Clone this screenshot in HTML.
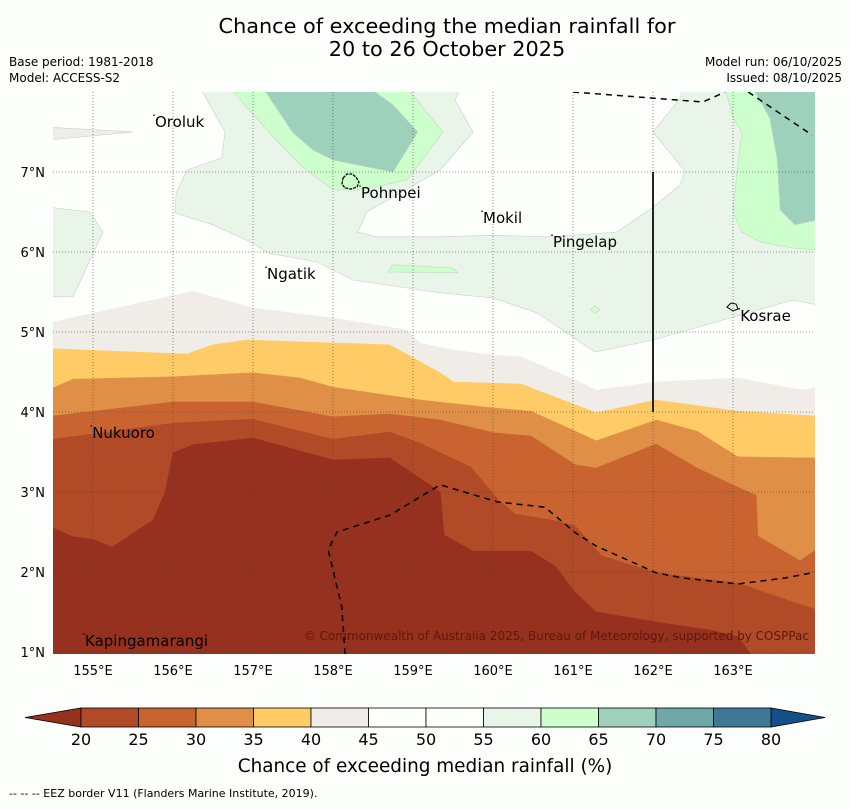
<!DOCTYPE html>
<html><head><meta charset="utf-8">
<style>
html,body{margin:0;padding:0;background:#fcfefc;}
body{width:850px;height:804px;overflow:hidden;font-family:"Liberation Sans","DejaVu Sans",sans-serif;}
svg text{font-family:"DejaVu Sans","Liberation Sans",sans-serif;}
</style></head>
<body>
<svg id="chart" width="850" height="804" viewBox="0 0 850 804" xmlns="http://www.w3.org/2000/svg">
<rect x="0" y="0" width="850" height="804" fill="#fcfefc"/>
<text x="447" y="33" font-size="20.8" text-anchor="middle" fill="#000">Chance of exceeding the median rainfall for</text>
<text x="447" y="56" font-size="20.8" text-anchor="middle" fill="#000">20 to 26 October 2025</text>
<text x="9" y="66" font-size="12">Base period: 1981-2018</text>
<text x="9" y="82" font-size="12">Model: ACCESS-S2</text>
<text x="842" y="66" font-size="12" text-anchor="end">Model run: 06/10/2025</text>
<text x="842" y="82" font-size="12" text-anchor="end">Issued: 08/10/2025</text>
<defs><clipPath id="mapclip"><rect x="53" y="92" width="762" height="562"/></clipPath></defs>
<g id="map" clip-path="url(#mapclip)">
<rect x="53" y="92" width="762" height="562" fill="#fdfffd"/>
</g>
<g id="axes"></g>
<g id="cbar"></g>
<text x="425" y="772" font-size="18.4" text-anchor="middle">Chance of exceeding median rainfall (%)</text>
<text x="9" y="797" font-size="11">--  --  -- EEZ border V11 (Flanders Marine Institute, 2019).</text>
</svg>
<script>
// ---- data (lon/lat) ----
const lonTicks = [155,156,157,158,159,160,161,162,163];
const latTicks = [1,2,3,4,5,6,7];
const cbLevels = [20,25,30,35,40,45,50,55,60,65,70,75,80];
const cbColors = ["#b04a27","#c96330","#e09046","#ffcb66","#f0ede8","#fdfffd","#fdfffd","#eaf5ea","#ccffcc","#9ed1bb","#6fa6a8","#3f7797"];
const cbLow = "#96301f", cbHigh = "#154f87";

const band40Lon = [154.5,156.25,157.0,158.0,158.925,159.09,159.51,160.01,160.35,161.03,161.29,162.04,163.06,163.86,164.05];
const band40Lat = [5.125,5.51,5.3,5.175,5.025,4.86,4.775,4.71,4.69,4.4,4.275,4.375,4.425,4.275,4.31];
const band35Lon = [154.5,156.175,156.5,156.925,158.71,159.05,159.34,159.51,160.35,161.29,162.04,163.06,164.05];
const band35Lat = [4.79,4.725,4.84,4.9,4.84,4.65,4.49,4.375,4.35,3.99,4.15,4.01,3.95];
const band30Lon = [154.5,154.75,156.0,157.0,157.59,158.0,159.09,160.01,160.475,161.03,161.29,162.04,162.55,163.06,164.05];
const band30Lat = [4.3,4.41,4.44,4.49,4.425,4.31,4.15,4.05,4.01,3.76,3.64,3.9,3.76,3.44,3.425];
const band25Lon = [154.5,156.0,157.0,158.0,158.71,159.34,160.01,160.475,161.03,161.29,162.04,162.55,163.06,163.29,163.31,163.84,164.05];
const band25Lat = [3.95,4.125,4.125,3.94,3.975,3.9,3.74,3.7,3.34,3.3,3.6,3.3,3.06,2.96,2.45,2.14,2.29];
const band20Lon = [154.5,156.0,157.0,158.0,158.71,159.09,159.725,160.06,160.275,160.775,161.03,161.36,162.04,163.06,164.05];
const band20Lat = [3.66,3.86,3.91,3.66,3.75,3.61,3.31,2.91,2.725,2.64,2.575,2.2,1.99,1.86,1.525];
const bandLowLon = [154.5,154.75,154.99,155.24,155.75,155.9,156.0,156.25,157.0,158.0,158.71,159.34,159.39,159.76,160.475,160.775,161.03,161.29,162.04,162.71,163.06,163.26];
const bandLowLat = [2.55,2.44,2.41,2.31,2.65,2.99,3.49,3.59,3.675,3.4,3.425,3.0,2.46,2.26,2.26,2.075,1.74,1.5,1.375,1.275,1.19,0.925];

const green55Lon = [156.34,159.59,159.525,159.75,159.34,158.425,158.31,158.55,159.34,160.0,160.71,161.55,162.0,162.34,162.4,162.0,162.34,162.375,164.05,164.05,163.75,162.0,161.275,160.55,160.0,159.34,158.925,158.25,157.8,157.175,157.0,156.5,156.025,156.04,156.175,156.61,156.65];
const green55Lat = [8.05,8.05,7.9,7.5,7.025,6.5,6.25,6.19,6.19,6.21,6.19,6.25,6.56,6.84,7.01,7.5,7.925,8.05,8.05,5.34,5.4,4.9,4.75,5.24,5.425,5.49,5.55,5.65,5.875,5.99,6.11,6.34,6.49,6.74,7.025,7.175,7.5];
const leftGreenLon = [154.45,154.96,155.125,154.75,154.45];
const leftGreenLat = [6.56,6.5,6.25,5.44,5.44];
const leftGrayLon = [154.45,155.5,154.45];
const leftGrayLat = [7.56,7.5,7.4];
const green60Lon = [156.71,157.25,157.625,158.0,158.34,158.925,159.375,158.925];
const green60Lat = [8.05,7.44,7.06,6.775,6.775,6.9,7.5,8.05];
const teal65Lon = [157.125,157.5,157.75,158.0,158.75,159.06,158.75,158.46];
const teal65Lat = [8.05,7.49,7.275,7.15,7.0,7.5,7.84,8.05];
const sliverLon = [158.69,158.75,159.5,159.56];
const sliverLat = [5.75,5.84,5.8,5.74];
const dotLon = [161.22,161.27,161.34,161.27];
const dotLat = [5.28,5.33,5.27,5.24];
const rGreenLon = [162.9,163.0,163.11,163.05,163.0,163.11,163.34,163.75,164.05,164.05];
const rGreenLat = [8.05,7.675,7.5,7.0,6.5,6.25,6.125,6.05,6.025,8.05];
const rTealLon = [163.25,163.46,163.55,163.59,163.775,164.05,164.05];
const rTealLat = [8.05,7.675,7.175,6.525,6.34,6.4,8.05];

const eezTop1Lon = [161.0,162.625,162.9], eezTop1Lat = [8.0,7.875,8.0];
const eezTop2Lon = [163.19,163.99], eezTop2Lat = [8.0,7.46];
const eezLowLon = [158.15,158.11,158.0,157.94,158.05,158.71,159.34,160.06,160.65,161.03,161.29,162.04,162.375,163.06,163.65,164.09];
const eezLowLat = [0.975,1.56,2.025,2.275,2.5,2.71,3.09,2.875,2.81,2.49,2.325,1.99,1.925,1.85,1.925,2.01];

const places = ["Oroluk","Pohnpei","Mokil","Pingelap","Ngatik","Kosrae","Nukuoro","Kapingamarangi"];
const placeLon = [155.775,158.35,159.875,160.75,157.175,163.09,154.99,154.9];
const placeLat = [7.56,6.675,6.36,6.06,5.66,5.14,3.675,1.075];

// ---- scales ----
const x = lon => 53 + (lon - 154.5) * 80;
const y = lat => 92 + (8 - lat) * 80;
const NS = "http://www.w3.org/2000/svg";
const map = document.getElementById('map');
const axes = document.getElementById('axes');
const cbar = document.getElementById('cbar');
function mk(tag, parent){ const e = document.createElementNS(NS, tag); parent.appendChild(e); return e; }
function pts(lons, lats){ return lons.map((l,i)=>x(l).toFixed(1)+','+y(lats[i]).toFixed(1)).join(' '); }

function band(lons, lats, color, name){
  const last = lons.length-1;
  const p = mk('polygon', map);
  p.setAttribute('points', pts(lons,lats)+' '+x(lons[last])+','+y(0.8)+' '+x(154.4)+','+y(0.8)+' '+x(154.4)+','+y(lats[0]));
  p.setAttribute('fill', color);
  p.setAttribute('stroke', color);
  p.setAttribute('stroke-width', '0.5');
  
  
}
function poly(lons, lats, color, name){
  const p = mk('polygon', map);
  p.setAttribute('points', pts(lons,lats));
  p.setAttribute('fill', color);
  p.setAttribute('stroke', '#c8cfc8');
  p.setAttribute('stroke-width', '0.6');
  
  
}
poly(green55Lon, green55Lat, "#eaf5ea", "band-55-60-north");
poly(leftGreenLon, leftGreenLat, "#eaf5ea", "band-55-60-west");
poly(leftGrayLon, leftGrayLat, "#f0ede8", "band-40-45-northwest");
poly(green60Lon, green60Lat, "#ccffcc", "band-60-65-pohnpei");
poly(teal65Lon, teal65Lat, "#9ed1bb", "band-65-70-pohnpei");
poly(sliverLon, sliverLat, "#ccffcc", "band-60-65-sliver");
poly(dotLon, dotLat, "#ccffcc", "band-60-65-dot");
poly(rGreenLon, rGreenLat, "#ccffcc", "band-60-65-east");
poly(rTealLon, rTealLat, "#9ed1bb", "band-65-70-east");
band(band40Lon, band40Lat, "#f0ede8", "band-40-45");
band(band35Lon, band35Lat, "#ffcb66", "band-35-40");
band(band30Lon, band30Lat, "#e09046", "band-30-35");
band(band25Lon, band25Lat, "#c96330", "band-25-30");
band(band20Lon, band20Lat, "#b04a27", "band-20-25");
band(bandLowLon, bandLowLat, "#96301f", "band-below-20");

// grid lines
lonTicks.forEach(l=>{
  const g = mk('line', map);
  g.setAttribute('x1', x(l)); g.setAttribute('x2', x(l)); g.setAttribute('y1', 92); g.setAttribute('y2', 654);
  g.setAttribute('stroke', '#444'); g.setAttribute('stroke-width', '0.8'); g.setAttribute('stroke-dasharray', '1,2'); g.setAttribute('opacity', '0.75');
  
  
});
latTicks.forEach(l=>{
  const g = mk('line', map);
  g.setAttribute('x1', 53); g.setAttribute('x2', 815); g.setAttribute('y1', y(l)); g.setAttribute('y2', y(l));
  g.setAttribute('stroke', '#444'); g.setAttribute('stroke-width', '0.8'); g.setAttribute('stroke-dasharray', '1,2'); g.setAttribute('opacity', '0.75');
  
  
});

// EEZ lines
[[eezTop1Lon,eezTop1Lat,'eez-border-north'],[eezTop2Lon,eezTop2Lat,'eez-border-northeast'],[eezLowLon,eezLowLat,'eez-border-south']].forEach(d=>{
  const pl = mk('polyline', map);
  pl.setAttribute('points', pts(d[0],d[1]));
  pl.setAttribute('fill', 'none'); pl.setAttribute('stroke', '#000'); pl.setAttribute('stroke-width', '1.5'); pl.setAttribute('stroke-dasharray', '6,5');
  
  
});
// vertical boundary line
const vl = mk('line', map);
vl.setAttribute('x1', x(162)); vl.setAttribute('x2', x(162)); vl.setAttribute('y1', y(7)); vl.setAttribute('y2', y(4));
vl.setAttribute('stroke', '#222'); vl.setAttribute('stroke-width', '2');



// islands
const pohn = mk('path', map);
pohn.setAttribute('d', 'M343,178 l4,-4 l5,0 l4,3 l3,5 l-2,5 l-6,2 l-6,-1 l-3,-4 z');
pohn.setAttribute('fill', 'none'); pohn.setAttribute('stroke', '#000'); pohn.setAttribute('stroke-width', '1.3'); pohn.setAttribute('stroke-dasharray', '3,1');


const kos = mk('path', map);
kos.setAttribute('d', 'M727,307 l4,-4 l5,1 l2,5 l-5,2 z');
kos.setAttribute('fill', 'none'); kos.setAttribute('stroke', '#000'); kos.setAttribute('stroke-width', '1');



// place labels
places.forEach((n,i)=>{
  const d = mk('circle', map);
  d.setAttribute('cx', x(placeLon[i])-1); d.setAttribute('cy', y(placeLat[i])-12); d.setAttribute('r', '0.8'); d.setAttribute('fill', '#000');
  
  
  const t = mk('text', map);
  t.setAttribute('x', x(placeLon[i])); t.setAttribute('y', y(placeLat[i])); t.setAttribute('font-size', '15'); t.setAttribute('fill', '#000');
  t.textContent = n;
  
  
});
const cr = mk('text', map);
cr.setAttribute('x', 809); cr.setAttribute('y', 640); cr.setAttribute('font-size', '12'); cr.setAttribute('text-anchor', 'end'); cr.setAttribute('fill', '#5b1a0c');
cr.textContent = '© Commonwealth of Australia 2025, Bureau of Meteorology, supported by COSPPac';



// axis tick labels
lonTicks.forEach(l=>{
  const t = mk('text', axes);
  t.setAttribute('x', x(l)); t.setAttribute('y', 675); t.setAttribute('font-size', '13'); t.setAttribute('text-anchor', 'middle');
  t.textContent = l + '°E';
  
  
});
latTicks.forEach(l=>{
  const t = mk('text', axes);
  t.setAttribute('x', 45); t.setAttribute('y', y(l)+5); t.setAttribute('font-size', '13'); t.setAttribute('text-anchor', 'end');
  t.textContent = l + '°N';
  
  
});

// colorbar
const cbX0 = 81, cbX1 = 771, cbY0 = 708, cbY1 = 727;
const cbW = (cbX1-cbX0)/cbColors.length;
const lowT = mk('polygon', cbar);
lowT.setAttribute('points', cbX0+','+cbY0+' '+cbX0+','+cbY1+' 25,'+((cbY0+cbY1)/2));
lowT.setAttribute('fill', cbLow); lowT.setAttribute('stroke', '#000'); lowT.setAttribute('stroke-width', '0.8');


const hiT = mk('polygon', cbar);
hiT.setAttribute('points', cbX1+','+cbY0+' '+cbX1+','+cbY1+' 825,'+((cbY0+cbY1)/2));
hiT.setAttribute('fill', cbHigh); hiT.setAttribute('stroke', '#000'); hiT.setAttribute('stroke-width', '0.8');


cbColors.forEach((c,i)=>{
  const r = mk('rect', cbar);
  r.setAttribute('x', cbX0+i*cbW); r.setAttribute('y', cbY0); r.setAttribute('width', cbW); r.setAttribute('height', cbY1-cbY0);
  r.setAttribute('fill', c); r.setAttribute('stroke', '#000'); r.setAttribute('stroke-width', '0.8');
  
  
});
cbLevels.forEach((v,i)=>{
  const t = mk('text', cbar);
  t.setAttribute('x', cbX0+i*cbW); t.setAttribute('y', 745); t.setAttribute('font-size', '16'); t.setAttribute('text-anchor', 'middle');
  t.textContent = v;
  
  
});
</script>
</body></html>
